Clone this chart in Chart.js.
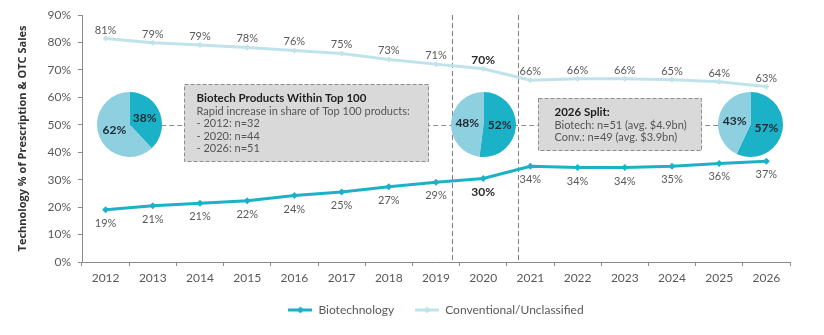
<!DOCTYPE html>
<html>
<head>
<meta charset="utf-8">
<script src="https://cdn.jsdelivr.net/npm/chart.js@4.4.1/dist/chart.umd.min.js"></script>
<style>
  body { margin: 0; background: #fff; }
  #wrap { position: relative; width: 824px; height: 335px; }
  #wrap canvas.pie { position: absolute; }
</style>
</head>
<body>
<div id="wrap"><canvas id="chart" width="824" height="335"></canvas></div>
<script>
const years = ["2012","2013","2014","2015","2016","2017","2018","2019","2020","2021","2022","2023","2024","2025","2026"];
const biotech = [19.0, 20.5, 21.4, 22.3, 24.2, 25.5, 27.4, 29.1, 30.4, 34.9, 34.4, 34.4, 34.9, 35.9, 36.7];
const conventional = [81.4, 79.9, 79.1, 78.2, 77.1, 76.0, 73.8, 72.1, 70.4, 66.2, 66.8, 66.8, 66.4, 65.7, 63.9];
const biotechLabels = ["19%","21%","21%","22%","24%","25%","27%","29%","30%","34%","34%","34%","35%","36%","37%"];
const convLabels = ["81%","79%","79%","78%","76%","75%","73%","71%","70%","66%","66%","66%","65%","64%","63%"];
const yTicks = [0, 10, 20, 30, 40, 50, 60, 70, 80, 90];

// pies: share of the top 100 (biotech / conventional)
const pieBiotech = [38, 52, 57];
const pieConv = [62, 48, 43];

const box1Lines = ["Biotech Products Within Top 100", "Rapid increase in share of Top 100 products:", "- 2012: n=32", "- 2020: n=44", "- 2026: n=51"];
const box2Lines = ["2026 Split:", "Biotech: n=51 (avg. $4.9bn)", "Conv.: n=49 (avg. $3.9bn)"];

const DARK = "#1bb2c8";
const LIGHT_LINE = "#c0e3eb";
const PIE_LIGHT = "#8ecfe0";
const TEXT = "#595959";

Chart.defaults.font.family = "Lato";
Chart.defaults.color = TEXT;

// where things sit, in category index / percent units
const pieSpots = [0.5, 8, 13.67];
const splitLines = [7.33, 8.73];
const boxes = [
  { x0: 1.67, x1: 6.82, top: 64.7, bottom: 36.7, padX: 12, lines: box1Lines },
  { x0: 9.17, x1: 12.61, top: 59.8, bottom: 40.7, padX: 16, lines: box2Lines }
];

function legendIcon(color) {
  const c = document.createElement("canvas");
  c.width = 24; c.height = 10;
  const g = c.getContext("2d");
  g.strokeStyle = color; g.lineWidth = 3;
  g.beginPath(); g.moveTo(0, 5); g.lineTo(24, 5); g.stroke();
  g.fillStyle = color;
  g.beginPath(); g.moveTo(12, 1.5); g.lineTo(15.5, 5); g.lineTo(12, 8.5); g.lineTo(8.5, 5); g.closePath(); g.fill();
  return c;
}
const icons = [legendIcon(DARK), legendIcon(LIGHT_LINE)];

const annotations = {
  id: "annotations",
  beforeDatasetsDraw(chart) {
    const { ctx, chartArea, scales: { x, y } } = chart;
    ctx.save();
    ctx.strokeStyle = "#7d7d7d";
    ctx.lineWidth = 1;
    ctx.setLineDash([5, 3]);
    splitLines.forEach(v => {
      const px = Math.round(x.getPixelForValue(v)) + 0.5;
      ctx.beginPath(); ctx.moveTo(px, chartArea.top); ctx.lineTo(px, chartArea.bottom); ctx.stroke();
    });
    // connector through the pies and boxes
    const cy = Math.round(y.getPixelForValue(50)) + 0.5;
    ctx.strokeStyle = "#8c8c8c";
    ctx.beginPath(); ctx.moveTo(x.getPixelForValue(pieSpots[0]), cy); ctx.lineTo(x.getPixelForValue(pieSpots[2]), cy); ctx.stroke();

    boxes.forEach(b => {
      const l = Math.round(x.getPixelForValue(b.x0)) + 0.5, r = Math.round(x.getPixelForValue(b.x1)) + 0.5;
      const t = Math.round(y.getPixelForValue(b.top)) + 0.5, btm = Math.round(y.getPixelForValue(b.bottom)) + 0.5;
      ctx.setLineDash([]);
      ctx.fillStyle = "#d9d9d9";
      ctx.fillRect(l, t, r - l, btm - t);
      ctx.setLineDash([4, 2]);
      ctx.strokeStyle = "#8c8c8c";
      ctx.strokeRect(l, t, r - l, btm - t);
      ctx.textBaseline = "middle";
      ctx.textAlign = "left";
      b.lines.forEach((line, i) => {
        ctx.font = i === 0 ? "bold 11.5px Lato" : "11px Lato";
        ctx.fillStyle = i === 0 ? "#1e1e1e" : "#555";
        ctx.fillText(line, l + b.padX, t + 14 + i * 12.5);
      });
    });
    ctx.restore();
  },
  afterDatasetsDraw(chart) {
    const { ctx } = chart;
    ctx.save();
    ctx.textAlign = "center";
    ctx.textBaseline = "alphabetic";
    const bio = chart.getDatasetMeta(0).data, conv = chart.getDatasetMeta(1).data;
    years.forEach((yr, i) => {
      const bold = yr === "2020";
      ctx.font = bold ? "bold 12px Lato" : "11px Lato";
      ctx.fillStyle = bold ? "#2b2b2b" : TEXT;
      ctx.fillText(convLabels[i], conv[i].x, conv[i].y - 5);
      ctx.fillText(biotechLabels[i], bio[i].x, bio[i].y + 17);
    });
    ctx.restore();
  }
};

const chart = new Chart(document.getElementById("chart"), {
  type: "line",
  data: {
    labels: years,
    datasets: [
      { label: "Biotechnology", data: biotech, borderColor: DARK, backgroundColor: DARK, borderWidth: 3,
        pointStyle: "rectRot", pointRadius: 3.5, pointBorderWidth: 0, tension: 0 },
      { label: "Conventional/Unclassified", data: conventional, borderColor: LIGHT_LINE, backgroundColor: LIGHT_LINE, borderWidth: 3,
        pointStyle: "rectRot", pointRadius: 3, pointBorderWidth: 0, tension: 0 }
    ]
  },
  options: {
    responsive: false,
    animation: false,
    layout: { padding: { top: 15, right: 34, bottom: 9, left: 0 } },
    scales: {
      x: {
        offset: true,
        grid: { offset: true, drawOnChartArea: false, tickLength: 4, color: "#8a8a8a" },
        border: { color: "#8a8a8a" },
        ticks: { padding: 5, font: { size: 12 }, color: TEXT },
        afterFit: s => { s.height = 21; }
      },
      y: {
        min: 0, max: 90,
        afterBuildTicks: s => { s.ticks = yTicks.map(v => ({ value: v })); },
        grid: { drawOnChartArea: false, tickLength: 4, color: "#8a8a8a" },
        border: { color: "#8a8a8a" },
        ticks: { padding: 7, font: { size: 12 }, color: TEXT, callback: v => v + "%" },
        title: { display: true, text: "Technology % of Prescription & OTC Sales",
          font: { family: "Open Sans", size: 11, weight: "bold" }, color: "#333", padding: { top: 16, bottom: 0 } },
        afterFit: s => { s.width = 82; }
      }
    },
    plugins: {
      legend: {
        position: "bottom",
        fullSize: false,
        labels: {
          usePointStyle: true,
          pointStyleWidth: 24,
          padding: 21,
          font: { size: 12 },
          color: TEXT,
          generateLabels: c => Chart.defaults.plugins.legend.labels.generateLabels(c).map((item, i) => Object.assign(item, { pointStyle: icons[i], rotation: 0 }))
        }
      },
      tooltip: { enabled: false }
    }
  },
  plugins: [annotations]
});

const pieLabels = {
  id: "pieLabels",
  afterDatasetsDraw(c) {
    const { ctx } = c;
    ctx.save();
    ctx.font = "bold 12px Lato";
    ctx.fillStyle = "#1f2a33";
    ctx.textAlign = "center";
    ctx.textBaseline = "middle";
    const vals = c.data.datasets[0].data;
    c.getDatasetMeta(0).data.forEach((arc, i) => {
      const p = arc.getCenterPoint();
      ctx.fillText(vals[i] + "%", p.x, p.y);
    });
    ctx.restore();
  }
};

const wrap = document.getElementById("wrap");
pieSpots.forEach((spot, i) => {
  const size = 67;
  const c = document.createElement("canvas");
  c.width = size; c.height = size; c.className = "pie";
  const cx = chart.scales.x.getPixelForValue(spot);
  const cy = chart.scales.y.getPixelForValue(50);
  c.style.left = Math.round(cx - size / 2) + "px";
  c.style.top = Math.round(cy - size / 2) + "px";
  wrap.appendChild(c);
  new Chart(c, {
    type: "pie",
    data: {
      labels: ["Biotechnology", "Conventional/Unclassified"],
      datasets: [{ data: [pieBiotech[i], pieConv[i]], backgroundColor: [DARK, PIE_LIGHT], borderWidth: 0 }]
    },
    options: {
      responsive: false,
      animation: false,
      layout: { padding: 1 },
      plugins: { legend: { display: false }, tooltip: { enabled: false } }
    },
    plugins: [pieLabels]
  });
});
</script>
</body>
</html>
